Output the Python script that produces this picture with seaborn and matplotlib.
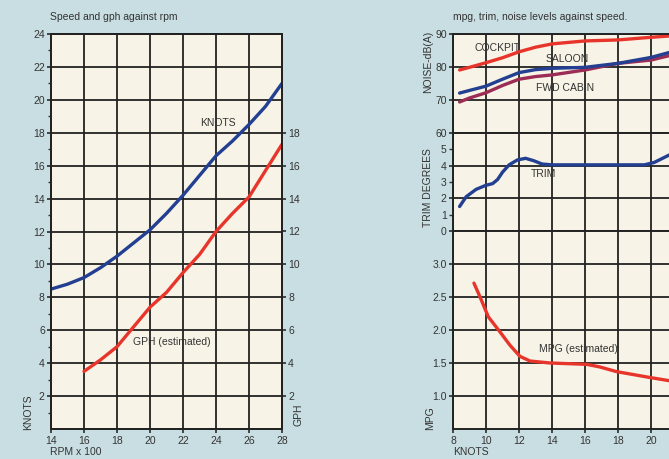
import matplotlib
matplotlib.use("Agg")
import matplotlib.pyplot as plt
import seaborn as sns

# --- valeurs ---
# vitesse et consommation en fonction du régime
rpm = [14, 15, 16, 17, 18, 19, 20, 21, 22, 23, 24, 25, 26, 27, 28]
knots = [8.5, 8.8, 9.2, 9.8, 10.5, 11.3, 12.1, 13.1, 14.2, 15.4, 16.6, 17.5, 18.5, 19.6, 21.0]
rpm_gph = [16, 17, 18, 19, 20, 21, 22, 23, 24, 25, 26, 27, 28]
gph = [3.5, 4.2, 5.0, 6.2, 7.4, 8.3, 9.5, 10.6, 12.0, 13.1, 14.1, 15.7, 17.3]

# bruit en fonction de la vitesse
speed_noise = [8.4, 9, 10, 11, 12, 13, 14, 16, 18, 20, 21.4]
cockpit = [79.1, 79.9, 81.3, 82.8, 84.6, 86.0, 87.0, 87.9, 88.2, 89.0, 89.5]
saloon = [72.1, 72.9, 74.2, 76.3, 78.3, 79.2, 79.6, 79.9, 81.1, 82.9, 84.8]
fwd_cabin = [69.4, 70.6, 72.2, 74.4, 76.3, 77.1, 77.6, 79.1, 81.1, 82.1, 83.8]

# assiette
speed_trim = [8.4, 8.8, 9.4, 10.0, 10.4, 10.7, 11.0, 11.4, 11.9, 12.4, 12.9, 13.4, 14, 16, 18, 19.6, 20.2, 20.8, 21.4]
trim = [1.5, 2.1, 2.55, 2.8, 2.9, 3.15, 3.6, 4.05, 4.35, 4.45, 4.3, 4.1, 4.05, 4.05, 4.05, 4.05, 4.2, 4.5, 4.8]

# mpg
speed_mpg = [9.27, 9.64, 10.14, 10.85, 11.45, 12.06, 12.67, 13.88, 16.1, 16.9, 17.9, 19.94, 21.4]
mpg = [2.71, 2.50, 2.20, 1.97, 1.77, 1.60, 1.53, 1.50, 1.48, 1.44, 1.37, 1.28, 1.22]

bleu = "#233f91"
rouge = "#e8352b"
violet = "#9b2d55"
fond = "#c9dee2"
papier = "#f7f3e6"
texte = "#333333"
grille = "#222222"

sns.set_theme(style="white", rc={
    "axes.facecolor": papier,
    "figure.facecolor": fond,
    "axes.edgecolor": grille,
    "axes.linewidth": 1.4,
    "grid.color": grille,
    "grid.linewidth": 1.3,
    "xtick.color": texte,
    "ytick.color": texte,
    "xtick.labelsize": 7.5,
    "ytick.labelsize": 7.5,
    "xtick.major.size": 3,
    "ytick.major.size": 3,
    "xtick.major.pad": 2,
    "ytick.major.pad": 1.5,
    "xtick.bottom": True,
    "ytick.left": True,
})
plt.rcParams["font.family"] = ["Liberation Sans", "DejaVu Sans"]

W, H = 669, 459
fig = plt.figure(figsize=(W / 100, H / 100), dpi=100)


def box(x0, y0, x1, y1):
    # pixels -> fraction de la figure
    return [x0 / W, 1 - y1 / H, (x1 - x0) / W, (y1 - y0) / H]


def ftext(x, y, s, **kw):
    fig.text(x / W, 1 - y / H, s, color=texte, fontsize=7.5, **kw)


# ---------------- graphique de gauche ----------------
ax = fig.add_axes(box(51, 34, 282, 429))
sns.lineplot(x=rpm, y=knots, ax=ax, color=bleu, lw=2.4, sort=False)
ax.set_xlim(14, 28)
ax.set_ylim(0, 24)
ax.set_xticks(range(14, 29, 2))
ax.set_yticks(range(2, 25, 2))
ax.set_yticks(range(1, 24, 2), minor=True)
ax.tick_params(axis="y", which="minor", length=2, left=True, color=texte)
ax.grid(True)
ax.set_axisbelow(True)

ax2 = ax.twinx()
sns.lineplot(x=rpm_gph, y=gph, ax=ax2, color=rouge, lw=2.4, sort=False)
ax2.set_ylim(0, 24)
ax2.set_yticks(range(2, 19, 2))
ax2.tick_params(axis="y", right=True, length=3, pad=1.5, labelsize=7.5, colors=texte)
ax2.grid(False)

ax.text(24.1, 18.6, "KNOTS", ha="center", va="center", fontsize=7.5, color=texte)
ax.text(21.3, 5.3, "GPH (estimated)", ha="center", va="center", fontsize=7.5, color=texte)

ftext(50, 17, "Speed and gph against rpm", va="center", ha="left")
ftext(28, 412, "KNOTS", rotation=90, va="center", ha="center")
ftext(298, 415, "GPH", rotation=90, va="center", ha="center")
ftext(50, 452, "RPM x 100", va="center", ha="left")

# ---------------- graphique de droite ----------------
x0 = 453
x1 = x0 + 14 * 16.5
ax_n = fig.add_axes(box(x0, 34, x1, 133))
ax_t = fig.add_axes(box(x0, 133, x1, 231))
ax_m = fig.add_axes(box(x0, 231, x1, 429))

for a in (ax_n, ax_t, ax_m):
    a.set_xlim(8, 22)
    # 22 tombe hors de l'image, comme sur l'original rogné
    a.set_xticks(range(8, 21, 2))
    a.grid(True, axis="x")
    a.set_axisbelow(True)
for a in (ax_n, ax_t):
    a.tick_params(axis="x", bottom=False, labelbottom=False)

sns.lineplot(x=speed_noise, y=cockpit, ax=ax_n, color=rouge, lw=2.4, sort=False)
sns.lineplot(x=speed_noise, y=fwd_cabin, ax=ax_n, color=violet, lw=2.4, sort=False)
sns.lineplot(x=speed_noise, y=saloon, ax=ax_n, color=bleu, lw=2.4, sort=False)
ax_n.set_ylim(60, 90)
ax_n.set_yticks([60, 70, 80, 90])
ax_n.grid(True, axis="y")
ax_n.text(10.67, 85.8, "COCKPIT", ha="center", va="center", fontsize=7.5, color=texte)
ax_n.text(14.9, 82.4, "SALOON", ha="center", va="center", fontsize=7.5, color=texte)
ax_n.text(14.8, 73.6, "FWD CABIN", ha="center", va="center", fontsize=7.5, color=texte)

sns.lineplot(x=speed_trim, y=trim, ax=ax_t, color=bleu, lw=2.4, sort=False)
ax_t.set_ylim(0, 6)
ax_t.set_yticks([0, 2, 4])
ax_t.set_yticks([1, 3, 5], minor=True)
ax_t.tick_params(axis="y", which="minor", left=True, length=3, pad=1.5, labelsize=7.5, color=texte)
ax_t.set_yticklabels(["1", "3", "5"], minor=True)
ax_t.grid(True, axis="y", which="major")
ax_t.text(13.5, 3.5, "TRIM", ha="center", va="center", fontsize=7.5, color=texte)

sns.lineplot(x=speed_mpg, y=mpg, ax=ax_m, color=rouge, lw=2.4, sort=False)
ax_m.set_ylim(0.5, 3.5)
ax_m.set_yticks([1.0, 1.5, 2.0, 2.5, 3.0])
ax_m.set_yticklabels(["1.0", "1.5", "2.0", "2.5", "3.0"])
ax_m.grid(True, axis="y")
ax_m.text(15.6, 1.71, "MPG (estimated)", ha="center", va="center", fontsize=7.5, color=texte)

ftext(453, 17, "mpg, trim, noise levels against speed.", va="center", ha="left")
ftext(428, 62, "NOISE-dB(A)", rotation=90, va="center", ha="center")
ftext(428, 188, "TRIM DEGREES", rotation=90, va="center", ha="center")
ftext(430, 418, "MPG", rotation=90, va="center", ha="center")
ftext(453, 452, "KNOTS", va="center", ha="left")

for a in (ax, ax2, ax_n, ax_t, ax_m):
    a.set_xlabel("")
    a.set_ylabel("")

fig.savefig("out.png", dpi=100, facecolor=fond)
